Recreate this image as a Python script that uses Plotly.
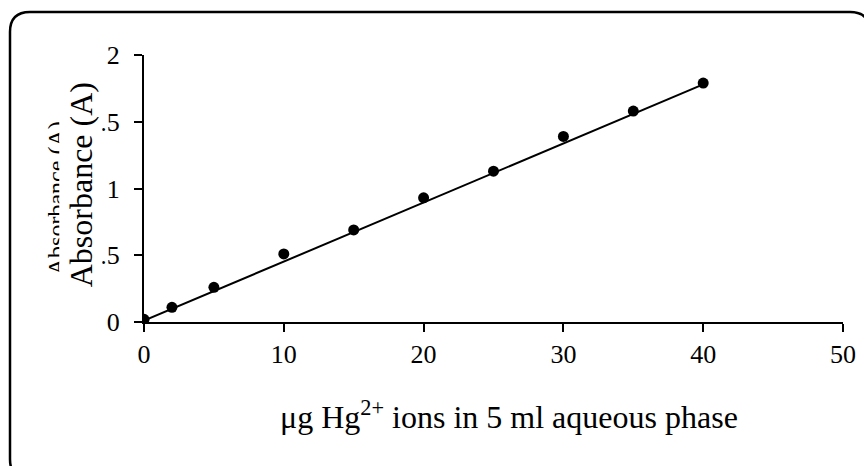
import plotly.graph_objects as go

# Calibration data: mercury amount vs. measured absorbance
hg_ug = [0, 2, 5, 10, 15, 20, 25, 30, 35, 40]
absorbance = [0.02, 0.11, 0.26, 0.51, 0.69, 0.93, 1.13, 1.39, 1.58, 1.79]

# Fitted calibration line (end points)
fit_x = [0, 40]
fit_y = [0.01, 1.78]

x_ticks = [0, 10, 20, 30, 40, 50]
y_ticks = [0, 0.5, 1, 1.5, 2]
y_tick_text = ["0", "0.5", "1", "1.5", "2"]

W, H = 864, 466
L, R, T, B = 144, 21, 55, 143.5
PW, PH = W - L - R, H - T - B

SERIF = "Liberation Serif, Times New Roman, serif"


def px(xp):
    return (xp - L) / PW


def py(yp):
    return (H - B - yp) / PH


fig = go.Figure()

fig.add_trace(go.Scatter(
    x=fit_x, y=fit_y, mode="lines",
    line=dict(color="black", width=2),
    hoverinfo="skip", showlegend=False,
))
fig.add_trace(go.Scatter(
    x=hg_ug, y=absorbance, mode="markers",
    marker=dict(color="black", size=11, symbol="circle"),
    showlegend=False,
))

# Rounded outer frame
x0, y0, x1, y1, r = 10, 12, 870, 480, 20
frame = (
    f"M {px(x0 + r)},{py(y0)} L {px(x1 - r)},{py(y0)} "
    f"Q {px(x1)},{py(y0)} {px(x1)},{py(y0 + r)} L {px(x1)},{py(y1 - r)} "
    f"Q {px(x1)},{py(y1)} {px(x1 - r)},{py(y1)} L {px(x0 + r)},{py(y1)} "
    f"Q {px(x0)},{py(y1)} {px(x0)},{py(y1 - r)} L {px(x0)},{py(y0 + r)} "
    f"Q {px(x0)},{py(y0)} {px(x0 + r)},{py(y0)} Z"
)
fig.add_shape(type="path", path=frame, xref="paper", yref="paper",
              line=dict(color="black", width=2.5), layer="below")

# Smaller y title underneath, partly hidden by the larger one
fig.add_annotation(
    text="Absorbance (A)", textangle=-90, showarrow=False,
    xref="paper", yref="paper", x=px(56), y=py(198.5),
    xanchor="center", yanchor="middle",
    font=dict(family=SERIF, size=24, color="black"),
)
# Main y title with an opaque background
fig.add_annotation(
    text="Absorbance (A)", textangle=-90, showarrow=False,
    xref="paper", yref="paper", x=px(80.5), y=py(185),
    xanchor="center", yanchor="middle", bgcolor="white", borderpad=3,
    font=dict(family=SERIF, size=32, color="black"),
)
# x title
fig.add_annotation(
    text="\u03bcg Hg<sup>2+</sup> ions in 5 ml aqueous phase", showarrow=False,
    xref="paper", yref="paper", x=px(508.5), y=py(416),
    xanchor="center", yanchor="middle",
    font=dict(family=SERIF, size=32, color="black"),
)

fig.update_layout(
    width=W, height=H,
    margin=dict(l=L, r=R, t=T, b=B, autoexpand=False),
    paper_bgcolor="white", plot_bgcolor="white",
    font=dict(family=SERIF, color="black"),
    xaxis=dict(
        range=[0, 50], tickvals=x_ticks, showgrid=False, zeroline=False,
        showline=True, linecolor="black", linewidth=2,
        ticks="outside", ticklen=8, tickwidth=2, tickcolor="black",
        tickfont=dict(family=SERIF, size=26, color="black"),
    ),
    yaxis=dict(
        range=[0, 2], tickvals=y_ticks, ticktext=y_tick_text,
        showgrid=False, zeroline=False,
        showline=True, linecolor="black", linewidth=2,
        ticks="outside", ticklen=8, tickwidth=2, tickcolor="black",
        ticklabelstandoff=9,
        tickfont=dict(family=SERIF, size=26, color="black"),
    ),
)

fig.write_html("out.html")
